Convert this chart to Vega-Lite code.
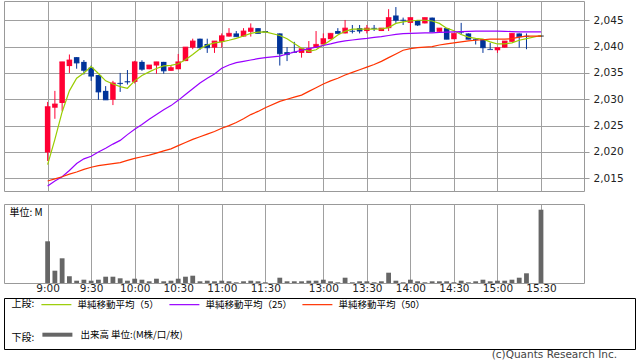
{
  "$schema": "https://vega.github.io/schema/vega-lite/v6.json",
  "padding": {"left": 3, "top": 0, "right": 0, "bottom": 0},
  "datasets": {
    "bars": [
      {"i":0,"t":"9:00","o":2019.9,"h":2029.5,"l":2018.3,"c":2028.6,"v":41.7,"ma5":2017.6,"ma25":2013.55,"ma50":2014.5},
      {"i":1,"t":"9:05","o":2028.4,"h":2031.6,"l":2026.3,"c":2029.1,"v":12.3,"ma5":2022.4,"ma25":2014.5,"ma50":2014.9},
      {"i":2,"t":"9:10","o":2029.3,"h":2037.1,"l":2027.8,"c":2037.1,"v":24.7,"ma5":2027.6,"ma25":2015.3,"ma50":2015.3},
      {"i":3,"t":"9:15","o":2036.3,"h":2038.5,"l":2035.0,"c":2037.45,"v":6.7,"ma5":2031.6,"ma25":2016.5,"ma50":2015.8},
      {"i":4,"t":"9:20","o":2038.0,"h":2038.0,"l":2035.8,"c":2036.9,"v":2.3,"ma5":2034.0,"ma25":2017.8,"ma50":2016.2},
      {"i":5,"t":"9:25","o":2037.1,"h":2037.45,"l":2034.7,"c":2035.5,"v":3.3,"ma5":2035.0,"ma25":2018.7,"ma50":2016.7},
      {"i":6,"t":"9:30","o":2036.0,"h":2036.4,"l":2033.5,"c":2034.4,"v":2.3,"ma5":2036.2,"ma25":2019.2,"ma50":2017.1},
      {"i":7,"t":"9:35","o":2034.6,"h":2034.6,"l":2029.9,"c":2031.4,"v":3.3,"ma5":2034.9,"ma25":2020.0,"ma50":2017.4},
      {"i":8,"t":"9:40","o":2031.6,"h":2032.5,"l":2029.9,"c":2029.9,"v":6.3,"ma5":2033.5,"ma25":2020.7,"ma50":2017.6},
      {"i":9,"t":"9:45","o":2029.9,"h":2033.5,"l":2028.9,"c":2033.1,"v":6.3,"ma5":2032.9,"ma25":2021.5,"ma50":2017.8},
      {"i":10,"t":"9:50","o":2033.1,"h":2035.0,"l":2031.4,"c":2033.0,"v":4.7,"ma5":2032.4,"ma25":2022.2,"ma50":2018.0},
      {"i":11,"t":"9:55","o":2033.4,"h":2035.55,"l":2032.8,"c":2033.3,"v":2.3,"ma5":2032.1,"ma25":2023.3,"ma50":2018.4},
      {"i":12,"t":"10:00","o":2033.3,"h":2037.3,"l":2033.0,"c":2037.1,"v":4.3,"ma5":2033.5,"ma25":2024.3,"ma50":2018.8},
      {"i":13,"t":"10:05","o":2037.1,"h":2037.4,"l":2035.4,"c":2035.7,"v":3.3,"ma5":2034.5,"ma25":2025.2,"ma50":2019.1},
      {"i":14,"t":"10:10","o":2035.7,"h":2036.5,"l":2035.7,"c":2036.5,"v":1.7,"ma5":2035.2,"ma25":2026.2,"ma50":2019.4},
      {"i":15,"t":"10:15","o":2036.4,"h":2037.1,"l":2034.85,"c":2037.1,"v":4.3,"ma5":2035.85,"ma25":2027.1,"ma50":2019.8},
      {"i":16,"t":"10:20","o":2037.1,"h":2037.1,"l":2034.85,"c":2035.4,"v":1.7,"ma5":2036.35,"ma25":2028.0,"ma50":2020.2},
      {"i":17,"t":"10:25","o":2035.4,"h":2036.4,"l":2035.4,"c":2036.0,"v":2.3,"ma5":2036.45,"ma25":2028.8,"ma50":2020.6},
      {"i":18,"t":"10:30","o":2035.7,"h":2038.6,"l":2035.7,"c":2037.1,"v":4.3,"ma5":2036.75,"ma25":2029.8,"ma50":2021.2},
      {"i":19,"t":"10:35","o":2037.25,"h":2039.9,"l":2037.25,"c":2039.9,"v":6.3,"ma5":2037.5,"ma25":2030.9,"ma50":2021.8},
      {"i":20,"t":"10:40","o":2039.8,"h":2041.5,"l":2039.5,"c":2041.05,"v":7.3,"ma5":2038.5,"ma25":2032.0,"ma50":2022.4},
      {"i":21,"t":"10:45","o":2041.5,"h":2041.5,"l":2039.35,"c":2039.8,"v":1.7,"ma5":2039.6,"ma25":2033.1,"ma50":2022.9},
      {"i":22,"t":"10:50","o":2040.5,"h":2041.5,"l":2038.8,"c":2039.8,"v":2.3,"ma5":2040.3,"ma25":2034.0,"ma50":2023.4},
      {"i":23,"t":"10:55","o":2039.8,"h":2041.05,"l":2038.8,"c":2041.05,"v":1.7,"ma5":2040.7,"ma25":2034.8,"ma50":2023.9},
      {"i":24,"t":"11:00","o":2040.9,"h":2042.5,"l":2039.8,"c":2042.05,"v":2.3,"ma5":2040.9,"ma25":2035.9,"ma50":2024.5},
      {"i":25,"t":"11:05","o":2041.9,"h":2043.5,"l":2041.9,"c":2042.5,"v":1.7,"ma5":2041.2,"ma25":2036.5,"ma50":2025.0},
      {"i":26,"t":"11:10","o":2042.5,"h":2042.95,"l":2041.9,"c":2041.9,"v":0.7,"ma5":2041.55,"ma25":2036.95,"ma50":2025.6},
      {"i":27,"t":"11:15","o":2041.9,"h":2043.5,"l":2041.9,"c":2042.95,"v":1.7,"ma5":2042.0,"ma25":2037.2,"ma50":2026.3},
      {"i":28,"t":"11:20","o":2042.8,"h":2044.4,"l":2041.9,"c":2043.5,"v":2.3,"ma5":2042.5,"ma25":2037.45,"ma50":2027.1},
      {"i":29,"t":"11:25","o":2043.5,"h":2043.5,"l":2042.5,"c":2042.5,"v":1.7,"ma5":2042.75,"ma25":2037.7,"ma50":2027.7},
      {"i":30,"t":"11:30","o":2042.95,"h":2042.95,"l":2042.75,"c":2042.75,"v":0.7,"ma5":2042.8,"ma25":2037.9,"ma50":2028.4},
      {"i":32,"t":"12:30","o":2042.5,"h":2042.5,"l":2036.4,"c":2038.65,"v":5.3,"ma5":2042.1,"ma25":2038.2,"ma50":2029.6},
      {"i":33,"t":"12:35","o":2038.95,"h":2039.9,"l":2037.25,"c":2038.5,"v":1.7,"ma5":2041.5,"ma25":2038.6,"ma50":2030.0},
      {"i":34,"t":"12:40","o":2038.95,"h":2040.9,"l":2038.9,"c":2038.9,"v":1.7,"ma5":2040.6,"ma25":2038.95,"ma50":2030.4},
      {"i":35,"t":"12:45","o":2038.8,"h":2039.6,"l":2037.9,"c":2039.6,"v":1.7,"ma5":2039.7,"ma25":2039.3,"ma50":2030.8},
      {"i":36,"t":"12:50","o":2038.8,"h":2041.05,"l":2038.8,"c":2039.6,"v":2.3,"ma5":2039.1,"ma25":2039.6,"ma50":2031.5},
      {"i":37,"t":"12:55","o":2039.8,"h":2042.95,"l":2039.8,"c":2040.4,"v":2.3,"ma5":2039.4,"ma25":2039.9,"ma50":2032.2},
      {"i":38,"t":"13:00","o":2040.4,"h":2042.5,"l":2040.4,"c":2041.5,"v":3.3,"ma5":2040.3,"ma25":2040.2,"ma50":2032.9},
      {"i":39,"t":"13:05","o":2041.4,"h":2042.5,"l":2041.4,"c":2042.5,"v":1.7,"ma5":2041.2,"ma25":2040.5,"ma50":2033.5},
      {"i":40,"t":"13:10","o":2042.95,"h":2043.5,"l":2042.5,"c":2042.5,"v":0.7,"ma5":2042.2,"ma25":2040.85,"ma50":2034.0},
      {"i":41,"t":"13:15","o":2042.5,"h":2045.05,"l":2042.5,"c":2043.5,"v":5.3,"ma5":2042.9,"ma25":2041.1,"ma50":2034.6},
      {"i":42,"t":"13:20","o":2042.95,"h":2044.1,"l":2042.5,"c":2042.9,"v":0.7,"ma5":2043.3,"ma25":2041.25,"ma50":2035.1},
      {"i":43,"t":"13:25","o":2043.5,"h":2044.1,"l":2042.5,"c":2042.95,"v":1.7,"ma5":2043.3,"ma25":2041.4,"ma50":2035.6},
      {"i":44,"t":"13:30","o":2042.95,"h":2044.1,"l":2042.5,"c":2043.5,"v":1.7,"ma5":2043.3,"ma25":2041.55,"ma50":2036.1},
      {"i":45,"t":"13:35","o":2043.5,"h":2044.1,"l":2042.95,"c":2043.45,"v":0.7,"ma5":2043.3,"ma25":2041.75,"ma50":2036.6},
      {"i":46,"t":"13:40","o":2042.95,"h":2043.5,"l":2042.95,"c":2043.5,"v":1.7,"ma5":2043.35,"ma25":2041.9,"ma50":2037.2},
      {"i":47,"t":"13:45","o":2043.5,"h":2047.1,"l":2042.95,"c":2045.5,"v":10.3,"ma5":2043.6,"ma25":2042.1,"ma50":2037.9},
      {"i":48,"t":"13:50","o":2045.9,"h":2047.5,"l":2044.5,"c":2045.0,"v":2.3,"ma5":2044.4,"ma25":2042.3,"ma50":2038.6},
      {"i":49,"t":"13:55","o":2045.05,"h":2045.5,"l":2044.1,"c":2045.0,"v":0.7,"ma5":2044.7,"ma25":2042.45,"ma50":2039.3},
      {"i":50,"t":"14:00","o":2044.5,"h":2045.5,"l":2042.8,"c":2045.5,"v":3.3,"ma5":2044.85,"ma25":2042.5,"ma50":2039.6},
      {"i":51,"t":"14:05","o":2045.05,"h":2045.05,"l":2043.9,"c":2044.1,"v":1.7,"ma5":2045.0,"ma25":2042.55,"ma50":2039.8},
      {"i":52,"t":"14:10","o":2044.4,"h":2045.5,"l":2044.4,"c":2045.5,"v":0.7,"ma5":2045.0,"ma25":2042.6,"ma50":2039.9},
      {"i":53,"t":"14:15","o":2045.5,"h":2045.5,"l":2042.8,"c":2042.8,"v":1.7,"ma5":2044.85,"ma25":2042.6,"ma50":2040.0},
      {"i":54,"t":"14:20","o":2042.8,"h":2043.5,"l":2042.8,"c":2043.5,"v":1.7,"ma5":2044.4,"ma25":2042.7,"ma50":2040.3},
      {"i":55,"t":"14:25","o":2043.5,"h":2043.5,"l":2041.4,"c":2041.4,"v":1.7,"ma5":2043.5,"ma25":2042.75,"ma50":2040.5},
      {"i":56,"t":"14:30","o":2041.4,"h":2042.5,"l":2041.4,"c":2042.5,"v":0.7,"ma5":2043.0,"ma25":2042.8,"ma50":2040.7},
      {"i":57,"t":"14:35","o":2042.8,"h":2044.5,"l":2042.3,"c":2042.75,"v":2.3,"ma5":2042.3,"ma25":2042.85,"ma50":2040.9},
      {"i":58,"t":"14:40","o":2042.5,"h":2042.5,"l":2041.4,"c":2041.4,"v":0.7,"ma5":2041.8,"ma25":2042.9,"ma50":2041.1},
      {"i":59,"t":"14:45","o":2041.4,"h":2041.4,"l":2040.4,"c":2041.35,"v":1.7,"ma5":2041.55,"ma25":2042.95,"ma50":2041.2},
      {"i":60,"t":"14:50","o":2041.4,"h":2041.4,"l":2038.8,"c":2039.8,"v":3.3,"ma5":2041.4,"ma25":2042.95,"ma50":2041.3},
      {"i":61,"t":"14:55","o":2039.5,"h":2040.7,"l":2039.5,"c":2039.45,"v":1.7,"ma5":2040.9,"ma25":2042.95,"ma50":2041.4},
      {"i":62,"t":"15:00","o":2039.3,"h":2039.8,"l":2038.8,"c":2039.8,"v":2.3,"ma5":2040.5,"ma25":2042.95,"ma50":2041.4},
      {"i":63,"t":"15:05","o":2039.8,"h":2041.05,"l":2039.8,"c":2041.05,"v":2.3,"ma5":2040.5,"ma25":2042.9,"ma50":2041.4},
      {"i":64,"t":"15:10","o":2040.9,"h":2042.5,"l":2040.9,"c":2042.5,"v":3.3,"ma5":2040.7,"ma25":2042.85,"ma50":2041.5},
      {"i":65,"t":"15:15","o":2042.5,"h":2042.5,"l":2039.8,"c":2041.9,"v":5.3,"ma5":2041.2,"ma25":2042.8,"ma50":2041.8},
      {"i":66,"t":"15:20","o":2042.0,"h":2042.5,"l":2039.5,"c":2041.95,"v":9.7,"ma5":2041.5,"ma25":2042.8,"ma50":2042.0},
      {"i":68,"t":"15:30","o":2042.0,"h":2042.0,"l":2042.0,"c":2042.0,"v":73.3,"ma5":2042.1,"ma25":2042.8,"ma50":2042.0}
    ]
  },
  "config": {
    "font": "DejaVu Sans",
    "view": {"stroke": "#999999"},
    "axis": {"gridColor": "#a0a0a0", "gridOpacity": 1, "gridWidth": 1, "labelFont": "DejaVu Sans", "labelFontSize": 10.5, "labelColor": "#222222", "labelOverlap": false},
    "legend": {
      "orient": "none",
      "padding": 0,
      "titleOrient": "left",
      "titleAnchor": "end",
      "titleBaseline": "bottom",
      "titlePadding": 6,
      "titleFont": "Noto Sans CJK JP",
      "titleFontSize": 10,
      "titleFontWeight": "normal",
      "titleColor": "#000000",
      "labelFont": "Noto Sans CJK JP",
      "labelFontSize": 9.5,
      "labelColor": "#000000",
      "labelOffset": 5,
      "symbolType": "stroke",
      "symbolSize": 900,
      "direction": "horizontal",
      "columnPadding": 7
    }
  },
  "spacing": 3,
  "vconcat": [
    {
      "spacing": 11,
      "vconcat": [
        {
          "width": 580,
          "height": 190,
          "data": {"name": "bars"},
          "encoding": {
            "x": {"field": "i", "type": "quantitative", "scale": {"domain": [-5.324, 73.24], "nice": false, "zero": false},
                  "axis": {"values": [0,6,12,18,24,30,38,44,50,56,62,68], "labels": false, "ticks": false, "domain": false, "title": null, "grid": true}}
          },
          "layer": [
            {
              "mark": {"type": "rule", "strokeWidth": 1},
              "encoding": {
                "y": {"field": "l", "type": "quantitative", "title": null, "scale": {"domain": [2012.6, 2048.65], "nice": false, "zero": false},
                      "axis": {"orient": "right", "values": [2015,2020,2025,2030,2035,2040,2045], "format": ",d", "labelOverlap": false, "grid": true, "domain": false, "ticks": true, "tickSize": 5, "tickColor": "#999999", "labelPadding": 4, "title": null}},
                "y2": {"field": "h"},
                "color": {"condition": [{"test": "datum.c > datum.o", "value": "#ff0033"}, {"test": "datum.c < datum.o", "value": "#003399"}], "value": "#000000"}
              }
            },
            {
              "mark": {"type": "bar", "width": 5.5},
              "encoding": {
                "y": {"field": "o", "type": "quantitative", "title": null, "scale": {"domain": [2012.6, 2048.65], "nice": false, "zero": false},
                      "axis": {"orient": "right", "values": [2015,2020,2025,2030,2035,2040,2045], "format": ",d", "labelOverlap": false, "grid": true, "domain": false, "ticks": true, "tickSize": 5, "tickColor": "#999999", "labelPadding": 4, "title": null}},
                "y2": {"field": "c"},
                "color": {"condition": [{"test": "datum.c > datum.o", "value": "#ff0033"}, {"test": "datum.c < datum.o", "value": "#003399"}], "value": "#000000"}
              }
            },
            {
              "mark": {"type": "tick", "orient": "horizontal", "thickness": 1.2, "size": 5.5},
              "encoding": {
                "y": {"field": "c", "type": "quantitative", "title": null, "scale": {"domain": [2012.6, 2048.65], "nice": false, "zero": false},
                      "axis": {"orient": "right", "values": [2015,2020,2025,2030,2035,2040,2045], "format": ",d", "labelOverlap": false, "grid": true, "domain": false, "ticks": true, "tickSize": 5, "tickColor": "#999999", "labelPadding": 4, "title": null}},
                "color": {"condition": [{"test": "datum.c > datum.o", "value": "#ff0033"}, {"test": "datum.c < datum.o", "value": "#003399"}], "value": "#000000"}
              }
            },
            {
              "mark": {"type": "line", "strokeWidth": 1.2},
              "encoding": {
                "y": {"field": "ma5", "type": "quantitative", "title": null, "scale": {"domain": [2012.6, 2048.65], "nice": false, "zero": false},
                      "axis": {"orient": "right", "values": [2015,2020,2025,2030,2035,2040,2045], "format": ",d", "labelOverlap": false, "grid": true, "domain": false, "ticks": true, "tickSize": 5, "tickColor": "#999999", "labelPadding": 4, "title": null}},
                "stroke": {"datum": "単純移動平均（5）", "scale": {"domain": ["単純移動平均（5）", "単純移動平均（25）", "単純移動平均（50）"], "range": ["#99cc00", "#9900ff", "#ff3300"]},
                           "legend": {"title": "上段:", "legendX": 7.4, "legendY": 287.4, "symbolStrokeWidth": 1.2}}
              }
            },
            {
              "mark": {"type": "line", "strokeWidth": 1.2},
              "encoding": {
                "y": {"field": "ma25", "type": "quantitative", "title": null, "scale": {"domain": [2012.6, 2048.65], "nice": false, "zero": false},
                      "axis": {"orient": "right", "values": [2015,2020,2025,2030,2035,2040,2045], "format": ",d", "labelOverlap": false, "grid": true, "domain": false, "ticks": true, "tickSize": 5, "tickColor": "#999999", "labelPadding": 4, "title": null}},
                "stroke": {"datum": "単純移動平均（25）"}
              }
            },
            {
              "mark": {"type": "line", "strokeWidth": 1.2},
              "encoding": {
                "y": {"field": "ma50", "type": "quantitative", "title": null, "scale": {"domain": [2012.6, 2048.65], "nice": false, "zero": false},
                      "axis": {"orient": "right", "values": [2015,2020,2025,2030,2035,2040,2045], "format": ",d", "labelOverlap": false, "grid": true, "domain": false, "ticks": true, "tickSize": 5, "tickColor": "#999999", "labelPadding": 4, "title": null}},
                "stroke": {"datum": "単純移動平均（50）"}
              }
            }
          ]
        },
        {
          "width": 580,
          "height": 79,
          "data": {"name": "bars"},
          "mark": {"type": "bar", "width": 4.8},
          "encoding": {
            "x": {"field": "i", "type": "quantitative", "scale": {"domain": [-5.324, 73.24], "nice": false, "zero": false},
                  "axis": {"values": [0,6,12,18,24,30,38,44,50,56,62,68],
                           "labelExpr": "['9:00','9:30','10:00','10:30','11:00','11:30','13:00','13:30','14:00','14:30','15:00','15:30'][indexof([0,6,12,18,24,30,38,44,50,56,62,68], datum.value)]",
                           "grid": true, "ticks": false, "domain": false, "title": null, "labelPadding": 0, "labelFlush": false}},
            "y": {"field": "v", "type": "quantitative", "scale": {"domain": [0, 79], "nice": false},
                  "axis": {"orient": "left", "values": [], "labels": false, "ticks": false, "domain": false, "grid": false, "title": "単位: M", "titleAngle": 0, "titleX": 5, "titleY": 8.5, "titleAlign": "left", "titleBaseline": "middle", "titleFont": "Noto Sans CJK JP", "titleFontSize": 10, "titleFontWeight": "normal", "titleColor": "#000000"}},
            "fill": {"datum": "出来高 単位:(M株/口/枚)", "scale": {"range": ["#666666"]},
                     "legend": {"title": "下段:", "legendX": 7.4, "legendY": 316.7, "symbolStrokeColor": "#666666", "symbolStrokeWidth": 4, "labelOffset": 6,
                                "encode": {"symbols": {"update": {"stroke": {"value": "#666666"}, "strokeWidth": {"value": 4}}}}}}
          }
        }
      ]
    },
    {
      "width": 631,
      "height": 51,
      "view": {"stroke": "#000000", "strokeWidth": 1},
      "data": {"values": []},
      "mark": "point",
      "title": {"text": "(c)Quants Research Inc.", "orient": "bottom", "anchor": "end", "fontSize": 10.5, "fontWeight": "normal", "color": "#444444", "font": "DejaVu Sans", "offset": 1, "dx": -18}
    }
  ]
}
